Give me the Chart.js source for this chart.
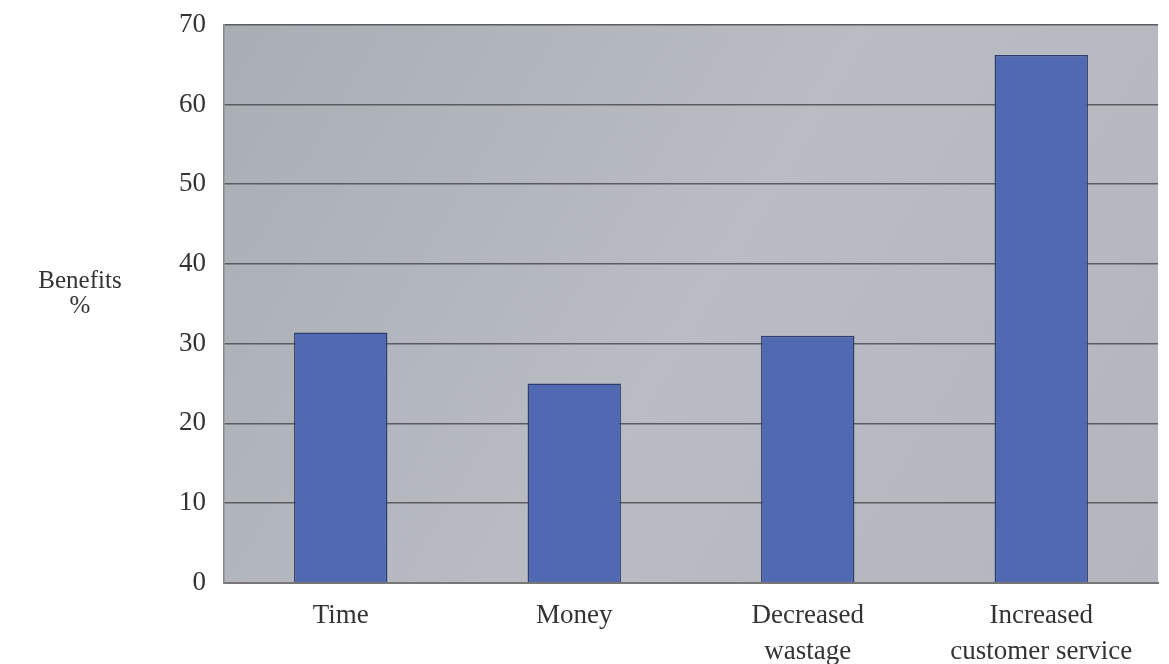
<!DOCTYPE html>
<html lang="en">
<head>
  <meta charset="UTF-8">
  <title>Benefits</title>
  <script src="https://cdn.jsdelivr.net/npm/chart.js"></script>
  <style>
    html, body { margin: 0; padding: 0; background: #fff; }
    #wrap { width: 1169px; height: 664px; }
  </style>
</head>
<body>
  <div id="wrap"><canvas id="benefitsChart"></canvas></div>
  <script>
    const categories = ['Time', 'Money', ['Decreased', 'wastage'], ['Increased', 'customer service']];
    const benefits = [31.4, 25, 31, 66.2];
    const yTicks = [0, 10, 20, 30, 40, 50, 60, 70];
    const yTitle = ['Benefits', '%'];

    // grey plot background + the horizontal y title
    const plotDecor = {
      id: 'plotDecor',
      beforeDraw(chart) {
        const { ctx, chartArea: a } = chart;
        ctx.save();
        const g = ctx.createLinearGradient(a.left, a.top, a.right, a.bottom);
        g.addColorStop(0, '#a9adb4');
        g.addColorStop(0.5, '#b9bdc3');
        g.addColorStop(1, '#b3b7bd');
        ctx.fillStyle = g;
        ctx.fillRect(a.left, a.top, a.right - a.left, a.bottom - a.top);
        ctx.restore();
      },
      afterDraw(chart) {
        const { ctx } = chart;
        ctx.save();
        ctx.fillStyle = '#333';
        ctx.font = '25px "Liberation Serif", serif';
        ctx.textAlign = 'center';
        ctx.textBaseline = 'middle';
        ctx.fillText(yTitle[0], 80, 281);
        ctx.fillText(yTitle[1], 80, 306);
        ctx.restore();
      }
    };

    new Chart(document.getElementById('benefitsChart'), {
      type: 'bar',
      data: {
        labels: categories,
        datasets: [{
          data: benefits,
          backgroundColor: '#5168b3',
          borderColor: '#2f3d6e',
          borderWidth: 1.5,
          barPercentage: 0.8,
          categoryPercentage: 0.5
        }]
      },
      options: {
        responsive: true,
        maintainAspectRatio: false,
        animation: false,
        layout: { padding: { left: 161, right: 11, top: 8, bottom: -13 } },
        plugins: { legend: { display: false }, tooltip: { enabled: false } },
        scales: {
          x: {
            grid: { display: false },
            border: { color: '#777', width: 2 },
            ticks: {
              color: '#333',
              font: { family: '"Liberation Serif", serif', size: 27, lineHeight: 1.3 },
              padding: 8,
              maxRotation: 0,
              autoSkip: false
            }
          },
          y: {
            min: 0,
            max: 70,
            afterBuildTicks(axis) { axis.ticks = yTicks.map(v => ({ value: v })); },
            grid: { color: '#5a5c60', lineWidth: 1.5, drawTicks: false },
            border: { color: '#888', width: 1.5 },
            ticks: {
              color: '#333',
              font: { family: '"Liberation Serif", serif', size: 27, lineHeight: 0.5 },
              padding: 18
            }
          }
        }
      },
      plugins: [plotDecor]
    });
  </script>
</body>
</html>
